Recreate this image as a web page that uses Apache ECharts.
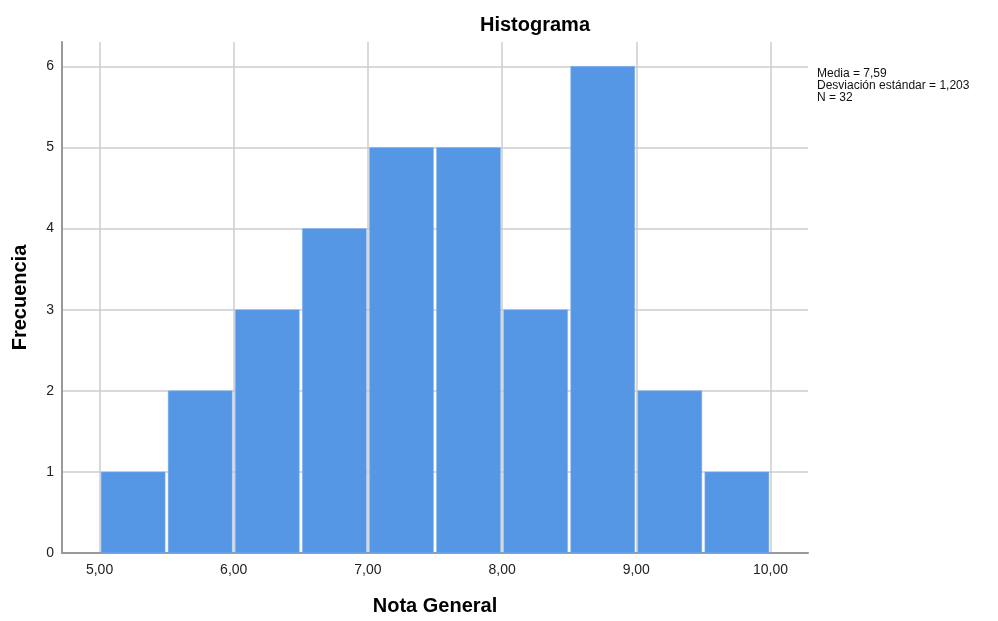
<!DOCTYPE html>
<html>
<head>
<meta charset="utf-8">
<script src="https://cdn.jsdelivr.net/npm/echarts@6/dist/echarts.min.js"></script>
<style>html,body{margin:0;padding:0;background:#fff;width:100%;height:100%;overflow:hidden;}#c{width:100%;height:100%;}</style>
</head>
<body>
<div id="c"></div>
<script>
var binStarts = [5.0, 5.5, 6.0, 6.5, 7.0, 7.5, 8.0, 8.5, 9.0, 9.5];
var binWidth = 0.5;
var frequencies = [1, 2, 3, 4, 5, 5, 3, 6, 2, 1];
var xTicks = [5, 6, 7, 8, 9, 10];
var yTicks = [0, 1, 2, 3, 4, 5, 6];
var statsLines = ['Media = 7,59', 'Desviación estándar = 1,203', 'N = 32'];

var chart = echarts.init(document.getElementById('c'));
var data = binStarts.map(function (s, i) { return [s, s + binWidth, frequencies[i]]; });
var font = 'Liberation Sans, Arial, sans-serif';

chart.setOption({
  animation: false,
  graphic: [{
    type: 'text', x: 535, y: 25,
    style: { text: 'Histograma', fontFamily: font, fontSize: 20, fontWeight: 'bold', fill: '#000',
             textAlign: 'center', textVerticalAlign: 'middle' }
  }, {
    type: 'text', left: 817, top: 68,
    style: { text: statsLines.join('\n'), fontFamily: font, fontSize: 12, lineHeight: 12, fill: '#111' }
  }],
  grid: { left: 62, right: 190, top: 42, bottom: 62 },
  xAxis: {
    type: 'value', min: 4.72, max: 10.28,
    name: 'Nota General', nameLocation: 'middle', nameGap: 43,
    nameTextStyle: { fontFamily: font, fontSize: 20, fontWeight: 'bold', color: '#000' },
    axisLine: { lineStyle: { color: '#999', width: 2 } },
    splitLine: { show: true, lineStyle: { color: '#cccccc', width: 1.5 } },
    axisLabel: {
      fontFamily: font, fontSize: 14, color: '#222', margin: 10,
      customValues: xTicks,
      formatter: function (v) { return v.toFixed(2).replace('.', ','); }
    },
    axisTick: { show: false, customValues: xTicks }
  },
  yAxis: {
    type: 'value', min: 0, max: 6.3,
    name: 'Frecuencia', nameLocation: 'middle', nameGap: 32, nameRotate: 90,
    nameTextStyle: { fontFamily: font, fontSize: 20, fontWeight: 'bold', color: '#000' },
    axisLine: { show: true, lineStyle: { color: '#999', width: 2 } },
    axisTick: { show: false, customValues: yTicks },
    splitLine: { show: true, lineStyle: { color: '#cccccc', width: 1.5 } },
    axisLabel: { fontFamily: font, fontSize: 14, color: '#222', margin: 8, customValues: yTicks }
  },
  series: [{
    type: 'custom',
    data: data,
    encode: { x: [0, 1], y: 2 },
    renderItem: function (params, api) {
      var p0 = api.coord([api.value(0), api.value(2)]);
      var p1 = api.coord([api.value(1), 0]);
      return {
        type: 'rect',
        shape: { x: p0[0] + 1.5, y: p0[1], width: p1[0] - p0[0] - 3, height: p1[1] - p0[1] },
        style: { fill: '#5596e5', stroke: '#8fb8ee', lineWidth: 0.5 }
      };
    }
  }]
});
</script>
</body>
</html>
